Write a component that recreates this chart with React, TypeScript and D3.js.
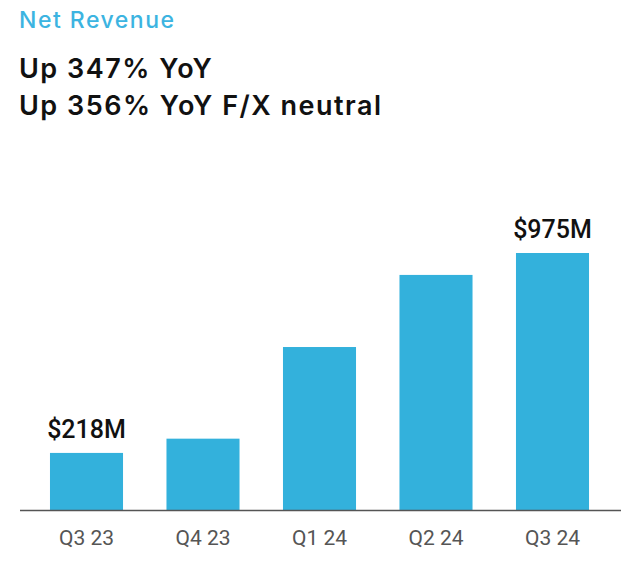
import React from 'react';
import { scaleBand, scaleLinear } from 'd3';

const quarters = ['Q3 23', 'Q4 23', 'Q1 24', 'Q2 24', 'Q3 24'];
const revenue = [218, 272, 619, 892, 975];
const valueLabels = ['$218M', '', '', '', '$975M'];

const W = 639;
const H = 575;
const baseline = 510.5;

const App = () => {
  const xScale = scaleBand<string>()
    .domain(quarters)
    .range([28.25, 610.75])
    .paddingInner(0.373)
    .paddingOuter(0.1865);

  const yScale = scaleLinear().domain([0, 975]).range([baseline, 253]);

  return (
    <svg
      width={W}
      height={H}
      style={{ position: 'absolute', left: 0, top: 0, background: '#fff' }}
    >
      <text x={19} y={28} fill="#3cb4e1" fontFamily="Inter" fontWeight={500} fontSize={23} letterSpacing={1.5}>
        Net Revenue
      </text>
      <text x={19} y={78} fill="#111" fontFamily="Inter" fontWeight={600} fontSize={27} letterSpacing={1.5}>
        Up 347% YoY
      </text>
      <text x={19} y={115} fill="#111" fontFamily="Inter" fontWeight={600} fontSize={27} letterSpacing={1.5}>
        Up 356% YoY F/X neutral
      </text>

      {quarters.map((q, i) => (
        <rect
          key={q}
          x={xScale(q)}
          y={yScale(revenue[i])}
          width={xScale.bandwidth()}
          height={baseline - yScale(revenue[i])}
          fill="#33b1dc"
        />
      ))}

      {quarters.map((q, i) =>
        valueLabels[i] ? (
          <text
            key={q + '-v'}
            x={(xScale(q) ?? 0) + xScale.bandwidth() / 2}
            y={yScale(revenue[i]) - 15}
            textAnchor="middle"
            fontFamily="Roboto"
            fontWeight={500}
            fontSize={25}
            fill="#111"
          >
            {valueLabels[i]}
          </text>
        ) : null
      )}

      <line x1={20} x2={621} y1={baseline} y2={baseline} stroke="#555" strokeWidth={1.5} />

      {quarters.map((q) => (
        <text
          key={q + '-t'}
          x={(xScale(q) ?? 0) + xScale.bandwidth() / 2}
          y={545}
          textAnchor="middle"
          fontFamily="Roboto"
          fontSize={21}
          fill="#555"
        >
          {q}
        </text>
      ))}
    </svg>
  );
};

export default App;
